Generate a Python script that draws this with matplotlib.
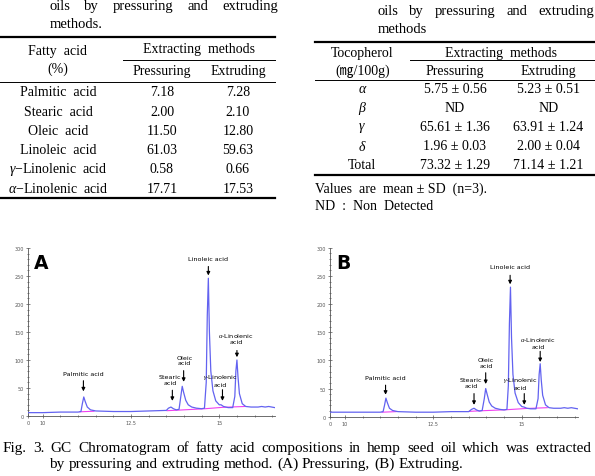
import numpy as np
import matplotlib
matplotlib.use("Agg")
import matplotlib.pyplot as plt
from matplotlib.lines import Line2D
from matplotlib.ticker import FixedLocator, NullFormatter

plt.rcParams['font.family'] = ['Liberation Serif', 'Noto Sans CJK KR', 'DejaVu Sans']
plt.rcParams['mathtext.fontset'] = 'custom'
plt.rcParams['mathtext.rm'] = 'Liberation Serif'
plt.rcParams['mathtext.it'] = 'Liberation Serif:italic'

# ---- table data ----
fatty_acids = ["Palmitic  acid", "Stearic  acid", "Oleic  acid", "Linoleic  acid",
               r"$\gamma$$-$Linolenic  acid", r"$\alpha$$-$Linolenic  acid"]
fa_pressuring = [7.18, 2.00, 11.50, 61.03, 0.58, 17.71]
fa_extruding = [7.28, 2.10, 12.80, 59.63, 0.66, 17.53]

tocopherols = [r"$\alpha$", r"$\beta$", r"$\gamma$", r"$\delta$", "Total"]
toc_pressuring = ["5.75 ± 0.56", "ND", "65.61 ± 1.36", "1.96 ± 0.03", "73.32 ± 1.29"]
toc_extruding = ["5.23 ± 0.51", "ND", "63.91 ± 1.24", "2.00 ± 0.04", "71.14 ± 1.21"]

# ---- chromatogram traces (retention time [min], response) ----
time_a = [0, 5, 10, 10.5, 11.0, 11.08, 11.12, 11.16, 11.20, 11.26, 11.35, 11.5, 12.0, 12.5,
          13.0, 13.5, 13.56, 13.63, 13.70, 13.78, 13.86, 13.91, 13.95, 13.99, 14.05, 14.12,
          14.22, 14.35, 14.5, 14.58, 14.63, 14.66, 14.69, 14.72, 14.76, 14.82, 14.9, 15.0,
          15.05, 15.12, 15.25, 15.38, 15.44, 15.47, 15.50, 15.53, 15.57, 15.65, 15.75, 15.9,
          16.1, 16.2, 16.3, 16.4, 16.57]
resp_a = [6, 6, 6, 7, 7, 8, 22, 34, 26, 16, 11, 9, 8, 8,
          9, 10, 14, 16, 13, 11, 12, 35, 53, 42, 28, 20,
          16, 14, 13, 14, 60, 180, 246, 150, 80, 45, 27, 20,
          20, 17, 15, 15, 35, 80, 100, 70, 40, 22, 17, 16,
          16, 17, 16, 17, 15]
time_b = [0, 5, 10, 10.5, 11.0, 11.08, 11.12, 11.16, 11.20, 11.26, 11.35, 11.5, 12.0, 12.5,
          13.0, 13.5, 13.58, 13.65, 13.72, 13.80, 13.88, 13.94, 13.98, 14.02, 14.08, 14.15,
          14.25, 14.38, 14.5, 14.58, 14.62, 14.65, 14.68, 14.71, 14.75, 14.81, 14.9, 15.0,
          15.07, 15.14, 15.25, 15.40, 15.46, 15.49, 15.52, 15.55, 15.59, 15.67, 15.77, 15.9,
          16.1, 16.2, 16.3, 16.4, 16.58]
resp_b = [8, 8, 8, 8, 8, 9, 20, 33, 25, 15, 11, 9, 8, 8,
          9, 9, 13, 15, 12, 10, 11, 32, 50, 40, 26, 19,
          15, 13, 12, 13, 55, 165, 230, 140, 75, 42, 25, 18,
          17, 15, 14, 14, 32, 75, 94, 65, 38, 21, 16, 15,
          15, 16, 15, 16, 14]
base_t = [[11.05, 11.45], [13.52, 13.85, 14.6, 15.1, 15.72]]
base_a = [[7.5, 8.5], [9.5, 10.5, 13, 15.5, 17]]
base_b = [[8.0, 9.0], [9.5, 10.5, 12.5, 14.5, 16]]

peak_names = ["Palmitic acid", "Stearic\nacid", "Oleic\nacid", "Linoleic acid",
              "$\\gamma$-Linolenic\nacid", "$\\alpha$-Linolenic\nacid"]
# label (t, y), arrow t, arrow tail, arrow tip
labels_a = [(11.15, 75), (13.60, 65), (14.01, 100), (14.69, 282), (15.02, 65), (15.48, 140)]
arrows_a = [(11.15, 63, 44), (13.67, 46, 27), (13.99, 81, 61), (14.69, 267, 251),
            (15.09, 47, 27), (15.50, 117, 105)]
labels_b = [(11.15, 70), (13.57, 60), (13.99, 96), (14.67, 267), (14.95, 60), (15.46, 133)]
arrows_b = [(11.15, 56, 39), (13.65, 41, 21), (13.98, 78, 58), (14.67, 251, 235),
            (15.07, 41, 21), (15.52, 116, 97)]

W, H = 595, 477
fig = plt.figure(figsize=(W / 100, H / 100), dpi=100)


def fx(px):
    return px / W


def fy(py):
    return 1 - py / H


def ftext(x, y, s, size=10, ha='center', va='center', **kw):
    return fig.text(fx(x), fy(y), s, fontsize=size, ha=ha, va=va, **kw)


def hline(y, x0, x1, lw=0.7):
    fig.add_artist(Line2D([fx(x0), fx(x1)], [fy(y), fy(y)], color='black', lw=lw))


def justify(words, x0, x1, y, size):
    r = fig.canvas.get_renderer()
    texts = [fig.text(0, fy(y), w, fontsize=size, va='baseline') for w in words]
    widths = [t.get_window_extent(r).width for t in texts]
    gap = (x1 - x0 - sum(widths)) / (len(words) - 1)
    x = x0
    for t, w in zip(texts, widths):
        t.set_x(fx(x))
        x += w + gap


# ---- left table ----
justify("oils by pressuring and extruding".split(), 49.3, 278.3, 10, 10.5)
ftext(49.3, 28.5, "methods.", 10.5, ha='left', va='baseline')
hline(37.7, 0, 275, 1.6)
ftext(58, 51.5, "Fatty  acid")
ftext(58, 69, "(%)")
ftext(199, 49.5, "Extracting  methods")
hline(61, 123, 275)
ftext(162, 72, "Pressuring")
ftext(238, 72, "Extruding")
hline(83.3, 0, 275)
for i, name in enumerate(fatty_acids):
    yy = 92.7 + i * 19.3
    ftext(58, yy, name)
    ftext(162, yy, f"{fa_pressuring[i]:.2f}")
    ftext(238, yy, f"{fa_extruding[i]:.2f}")
hline(199, 0, 275, 1.6)

# ---- right table ----
justify("oils by pressuring and extruding".split(), 377.7, 594, 15, 10.5)
ftext(377.7, 33.5, "methods", 10.5, ha='left', va='baseline')
hline(42.7, 315, 595, 1.6)
ftext(362.3, 53.3, "Tocopherol")
ftext(362.3, 71.7, "(㎎/100g)")
ftext(500.7, 53.3, "Extracting  methods")
hline(61, 410, 595)
ftext(455, 71.7, "Pressuring")
ftext(548.3, 71.7, "Extruding")
hline(80.5, 315, 595)
for i, name in enumerate(tocopherols):
    yy = 90 + i * 18.9
    ftext(362.3, yy, name)
    ftext(455, yy, toc_pressuring[i])
    ftext(548.3, yy, toc_extruding[i])
hline(175.7, 315, 595, 1.6)
ftext(315, 189, "Values  are  mean ± SD  (n=3).", ha='left')
ftext(315, 206.7, "ND  :  Non  Detected", ha='left')

# ---- chromatograms ----
bx = [0, 10, 30]
ux = [9.58, 10, 30]


def fwd(t):
    return np.interp(t, bx, ux)


def inv(u):
    return np.interp(u, ux, bx)


def chromatogram(rect, t, r, bt, br, labels, arrows, letter):
    ax = fig.add_axes(rect)
    ax.set_xscale('function', functions=(fwd, inv))
    ax.plot(t, r, color='#6262f0', lw=0.9, zorder=3)
    for seg_t, seg_r in zip(bt, br):
        ax.plot(seg_t, seg_r, color='#f040f0', lw=0.8, zorder=2)
    ax.set_xlim(0, t[-1])
    ax.set_ylim(0, 300)
    for sp in ['top', 'right']:
        ax.spines[sp].set_visible(False)
    for sp in ['left', 'bottom']:
        ax.spines[sp].set_color('#555555')
        ax.spines[sp].set_linewidth(0.6)
    ax.xaxis.set_major_locator(FixedLocator([0, 10, 12.5, 15]))
    ax.xaxis.set_minor_locator(FixedLocator(np.arange(10, 16.6, 0.5)))
    ax.xaxis.set_minor_formatter(NullFormatter())
    ax.set_xticklabels(["0", "10", "12.5", "15"], family='DejaVu Sans')
    ax.yaxis.set_major_locator(FixedLocator(np.arange(0, 301, 50)))
    ax.yaxis.set_minor_locator(FixedLocator(np.arange(0, 301, 10)))
    ax.tick_params(which='both', labelsize=3.5, colors='#555555', width=0.5,
                   direction='inout', pad=1.5)
    ax.tick_params(which='major', length=3)
    ax.tick_params(which='minor', length=1.8)
    for lab in ax.get_yticklabels():
        lab.set_family('DejaVu Sans')
    for name, (lx, ly), (ax_t, y0, y1) in zip(peak_names, labels, arrows):
        ax.text(lx, ly, name, ha='center', va='center', fontsize=4.6,
                family='DejaVu Sans', linespacing=1.2, zorder=4)
        ax.annotate('', xy=(ax_t, y1), xytext=(ax_t, y0),
                    arrowprops=dict(arrowstyle='-|>', color='black', lw=0.8,
                                    mutation_scale=5, shrinkA=0, shrinkB=0))
    ax.text(0.055, 0.915, letter, transform=ax.transAxes, ha='center', va='center',
            fontsize=13.5, fontweight='bold', family='DejaVu Sans')
    return ax


chromatogram([fx(28), fy(417), (274.7 - 28) / W, 168 / H], time_a, resp_a,
             base_t, base_a, labels_a, arrows_a, "A")
chromatogram([fx(330), fy(417.7), (577.7 - 330) / W, 169 / H], time_b, resp_b,
             base_t, base_b, labels_b, arrows_b, "B")

# ---- caption ----
cap1 = "Fig. 3. GC Chromatogram of fatty acid compositions in hemp seed oil which was extracted"
cap2 = "by pressuring and extruding method. (A) Pressuring, (B) Extruding."
justify(cap1.split(), 3, 591.7, 451.7, 11)
justify(cap2.split(), 49.3, 463, 468.3, 11)

fig.savefig("out.png", dpi=100)
